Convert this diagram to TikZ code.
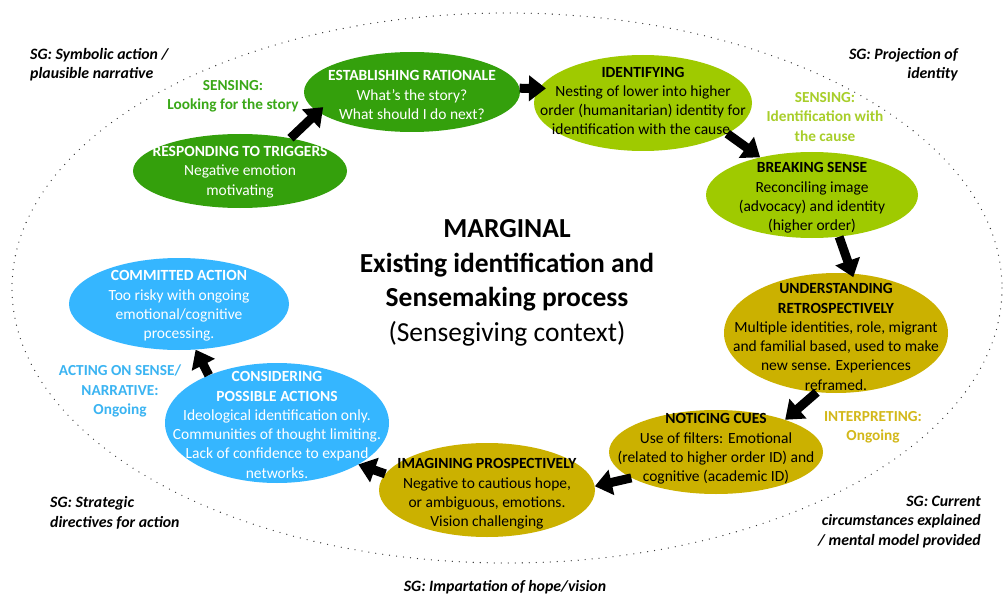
\documentclass[tikz,border=0pt]{standalone}
\usepackage{fontspec}
\setmainfont{Carlito}
\usetikzlibrary{arrows.meta,shapes.geometric}
\definecolor{dg}{HTML}{34A00C}
\definecolor{lg}{HTML}{9FCA00}
\definecolor{gd}{HTML}{CBB100}
\definecolor{bl}{HTML}{35B6FF}
\definecolor{dgt}{HTML}{3AA818}
\definecolor{lgt}{HTML}{A8CE2A}
\definecolor{gdt}{HTML}{D3B81A}
\definecolor{blt}{HTML}{3BB4F2}
\begin{document}
\begin{tikzpicture}[x=1pt,y=-1pt,
  blob/.style={ellipse, draw=none, inner sep=0pt},
  ntext/.style={align=center, inner sep=0pt, font=\fontsize{15.5}{19.3}\selectfont},
  sg/.style={inner sep=0pt, font=\fontsize{15.8}{19.3}\selectfont\bfseries\itshape},
  phase/.style={align=center, inner sep=0pt, font=\fontsize{15.3}{19.3}\selectfont\bfseries},
  bigarrow/.style={line width=9pt, -{Triangle[length=17pt,width=25pt]}},
]
\fill[white] (0,0) rectangle (1007,599);
\useasboundingbox (0,0) rectangle (1007,599);

% dotted outer ellipse
\draw[line width=1.3pt, line cap=round, dash pattern=on 0pt off 7pt, black!80]
  (507,288) ellipse [x radius=495, y radius=275];

% nodes
\node[blob, fill=dg, minimum width=214pt, minimum height=74pt] (rt) at (240,171) {};
\node[blob, fill=dg, minimum width=216pt, minimum height=80pt] (er) at (412,92) {};
\node[blob, fill=lg, minimum width=218pt, minimum height=96pt] (id) at (643,103) {};
\node[blob, fill=lg, minimum width=212pt, minimum height=86pt] (bs) at (812,195) {};
\node[blob, fill=gd, minimum width=224pt, minimum height=120pt] (ur) at (836,333) {};
\node[blob, fill=gd, minimum width=214pt, minimum height=84pt] (nc) at (716,452) {};
\node[blob, fill=gd, minimum width=216pt, minimum height=94pt] (ip) at (487,490) {};
\node[blob, fill=bl, minimum width=224pt, minimum height=120pt] (cp) at (277,423) {};
\node[blob, fill=bl, minimum width=220pt, minimum height=92pt] (ca) at (179,304) {};

% node texts
\node[ntext, text=white] (rt-t) at (240,172) {\textbf{RESPONDING TO TRIGGERS}\\Negative emotion\\motivating};
\node[ntext, text=white] (er-t) at (412,95) {\textbf{ESTABLISHING RATIONALE}\\What’s the story?\\What should I do next?};
\node[ntext, text=black] (id-t) at (643,101) {\textbf{IDENTIFYING}\\Nesting of lower into higher\\order (humanitarian) identity for\\identification with the cause.};
\node[ntext, text=black] (bs-t) at (812,198) {\textbf{BREAKING SENSE}\\Reconciling image\\(advocacy) and identity\\(higher order)};
\node[ntext, text=black] (ur-t) at (836,337) {\textbf{UNDERSTANDING}\\\textbf{RETROSPECTIVELY}\\Multiple identities, role, migrant\\and familial based, used to make\\new sense. Experiences\\reframed.};
\node[ntext, text=black] (nc-t) at (716,449) {\textbf{NOTICING CUES}\\Use of filters: Emotional\\(related to higher order ID) and\\cognitive (academic ID)};
\node[ntext, text=black] (ip-t) at (487,494) {\textbf{IMAGINING PROSPECTIVELY}\\Negative to cautious hope,\\or ambiguous, emotions.\\Vision challenging};
\node[ntext, text=white] (cp-t) at (277,425) {\textbf{CONSIDERING}\\\textbf{POSSIBLE ACTIONS}\\Ideological identification only.\\Communities of thought limiting.\\Lack of confidence to expand\\networks.};
\node[ntext, text=white] (ca-t) at (179,306) {\textbf{COMMITTED ACTION}\\Too risky with ongoing\\emotional/cognitive\\processing.};

% arrows
\draw[bigarrow, shorten >=-7pt] (rt.33) -- (er.192);
\draw[bigarrow, shorten >=-7pt] (er.2) -- (id.172);
\draw[bigarrow] (id.-20) -- (bs.144);
\draw[bigarrow, shorten >=-4pt] (bs.-57) -- (ur.75);
\draw[bigarrow] (ur.-108) -- (nc.25);
\draw[bigarrow] (nc.197) -- (ip.2);
\draw[bigarrow] (ip.171) -- (cp.-27);
\draw[bigarrow] (cp.145) -- (ca.-70);

% centre title
\node[align=center, inner sep=0pt, font=\fontsize{27.5}{34.5}\selectfont] (title) at (507,283)
  {\textbf{MARGINAL}\\\textbf{Existing identification and}\\\textbf{Sensemaking process}\\(Sensegiving context)};

% phase labels
\node[phase, text=dgt] (ph1) at (233,96) {SENSING:\\Looking for the story};
\node[phase, text=lgt] (ph2) at (825,117) {SENSING:\\Identification with\\the cause};
\node[phase, text=gdt] (ph3) at (873,427) {INTERPRETING:\\Ongoing};
\node[phase, text=blt] (ph4) at (120,391) {ACTING ON SENSE/\\NARRATIVE:\\Ongoing};

% SG labels
\node[sg, align=left, anchor=west] (sg1) at (30,65) {SG: Symbolic action /\\plausible narrative};
\node[sg, align=right, anchor=east] (sg2) at (958,65) {SG: Projection of\\identity};
\node[sg, align=left, anchor=west] (sg3) at (50,513) {SG: Strategic\\directives for action};
\node[sg, align=right, anchor=east] (sg4) at (981,522) {SG: Current\\circumstances explained\\/ mental model provided};
\node[sg] (sg5) at (505,587) {SG: Impartation of hope/vision};
\end{tikzpicture}
\end{document}
